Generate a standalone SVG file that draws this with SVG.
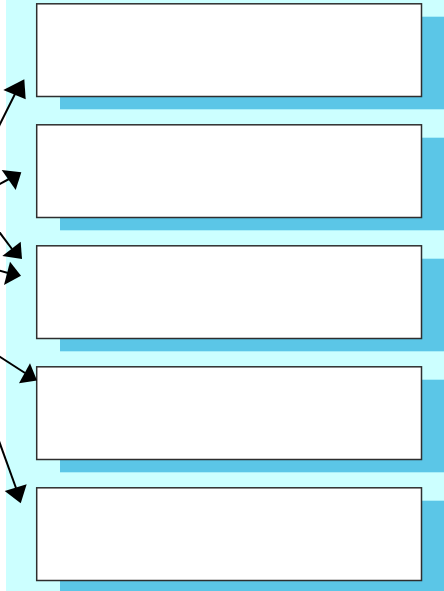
<svg xmlns="http://www.w3.org/2000/svg" width="444" height="591" viewBox="0 0 444 591">
<style>
.bg{fill:#CCFFFF}
.sh{fill:#5BC6E7}
.bx{fill:#FFFFFF;stroke:#2E2E2E;stroke-width:1.5}
.ln{stroke:#000;stroke-width:2;fill:none}
.hd{fill:#000}
</style>
<rect class="bg" x="6" y="0" width="438" height="591"/>
<g id="node1"><rect class="sh" x="60" y="16.7" width="390" height="92.6"/><rect class="bx" x="36.7" y="3.8" width="384.8" height="92.7"/></g>
<g id="node2"><rect class="sh" x="60" y="137.7" width="390" height="92.6"/><rect class="bx" x="36.7" y="124.8" width="384.8" height="92.7"/></g>
<g id="node3"><rect class="sh" x="60" y="258.7" width="390" height="92.6"/><rect class="bx" x="36.7" y="245.8" width="384.8" height="92.7"/></g>
<g id="node4"><rect class="sh" x="60" y="379.7" width="390" height="92.6"/><rect class="bx" x="36.7" y="366.8" width="384.8" height="92.7"/></g>
<g id="node5"><rect class="sh" x="60" y="500.7" width="390" height="92.6"/><rect class="bx" x="36.7" y="487.8" width="384.8" height="92.7"/></g>
<g id="connectors">
<g><line class="ln" x1="-2" y1="128" x2="15" y2="94"/><polygon class="hd" points="24.3,79.3 3.3,90 25.7,99.3"/></g>
<g><line class="ln" x1="-4" y1="186" x2="9" y2="179"/><polygon class="hd" points="21.3,172.3 1.7,170 15.7,190"/></g>
<g><line class="ln" x1="-3" y1="229" x2="12" y2="249"/><polygon class="hd" points="22,259 2.3,256 20.7,241.7"/></g>
<g><line class="ln" x1="-3" y1="270" x2="8" y2="273"/><polygon class="hd" points="21,275.7 10,261.7 4,285"/></g>
<g><line class="ln" x1="-3" y1="355" x2="25" y2="373"/><polygon class="hd" points="37,380.5 19,383.3 30,363.3"/></g>
<g><line class="ln" x1="-1" y1="441" x2="16" y2="488"/><polygon class="hd" points="20.7,503.3 4.7,491 26.7,484.3"/></g>
</g>
</svg>
